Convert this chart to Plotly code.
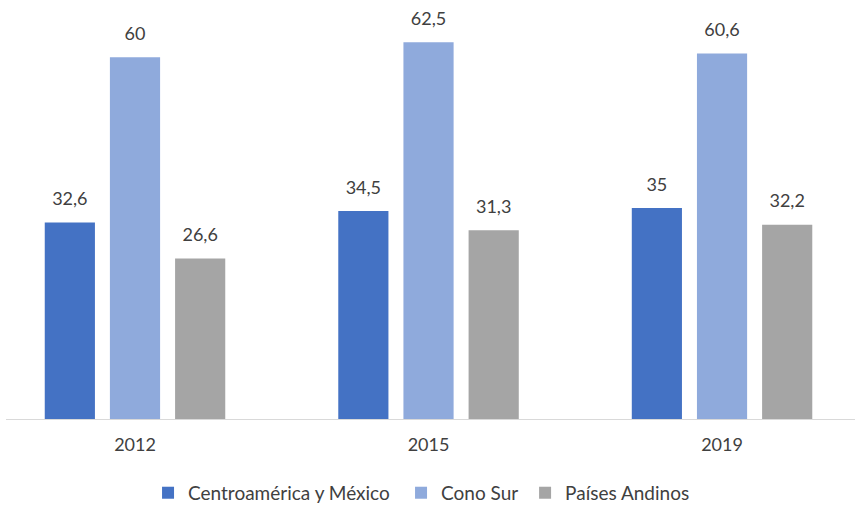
import plotly.graph_objects as go

years = ["2012", "2015", "2019"]
series_names = ["Centroamérica y México", "Cono Sur", "Países Andinos"]
centro = [32.6, 34.5, 35.0]
cono = [60.0, 62.5, 60.6]
andinos = [26.6, 31.3, 32.2]
labels_centro = ["32,6", "34,5", "35"]
labels_cono = ["60", "62,5", "60,6"]
labels_andinos = ["26,6", "31,3", "32,2"]

colors = ["#4472C4", "#8FAADC", "#A5A5A5"]
values = [centro, cono, andinos]
labels = [labels_centro, labels_cono, labels_andinos]
legend_ids = ["legend", "legend2", "legend3"]
legend_x = [0.1673, 0.4653, 0.6114]

FONT = "Lato"
TXT = "#404040"

fig = go.Figure()
for i, (name, vals, col) in enumerate(zip(series_names, values, colors)):
    fig.add_trace(go.Bar(x=years, y=vals, name=name, offsetgroup=str(i), legend=legend_ids[i],
                         marker=dict(color=col, line=dict(width=0))))
for i, (vals, labs) in enumerate(zip(values, labels)):
    fig.add_trace(go.Scatter(x=years, y=vals, text=labs, mode="markers+text",
                             textposition="top center", offsetgroup=str(i),
                             marker=dict(size=19, color="rgba(0,0,0,0)"),
                             textfont=dict(family=FONT, size=18, color=TXT),
                             showlegend=False, hoverinfo="skip", cliponaxis=False))

leg_common = dict(orientation="h", xanchor="left", yref="container", y=0.024, yanchor="middle",
                  font=dict(family=FONT, size=19, color=TXT), itemwidth=30, bgcolor="rgba(0,0,0,0)")

fig.update_layout(
    width=861, height=505,
    margin=dict(l=6, r=6, t=5, b=86),
    paper_bgcolor="white", plot_bgcolor="white",
    barmode="group", bargap=0.334, bargroupgap=0.23,
    scattermode="group", scattergap=0.334,
    font=dict(family=FONT, size=18, color=TXT),
    showlegend=True,
    legend=dict(x=legend_x[0], **leg_common),
    legend2=dict(x=legend_x[1], **leg_common),
    legend3=dict(x=legend_x[2], **leg_common),
    xaxis=dict(type="category", range=[-0.4395, 2.453], showline=True, linecolor="#D9D9D9", linewidth=1,
               ticks="outside", ticklen=9, tickcolor="rgba(0,0,0,0)", showgrid=False,
               tickfont=dict(family=FONT, size=18, color=TXT)),
    yaxis=dict(range=[0, 68.66], showticklabels=False, showline=False, zeroline=False,
               showgrid=False, ticks=""),
)

fig.write_html("out.html")
